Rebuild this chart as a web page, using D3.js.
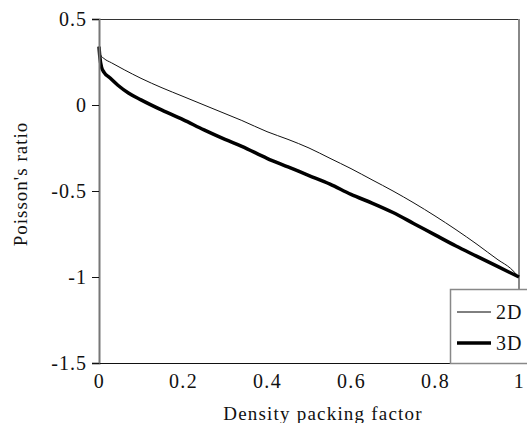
<!DOCTYPE html>
<html>
<head>
<meta charset="utf-8">
<script src="https://cdn.jsdelivr.net/npm/d3@7"></script>
<style>
  body { margin: 0; background: #fff; }
  text { font-family: "Liberation Serif", "Times New Roman", serif; fill: #111; }
</style>
</head>
<body>
<div id="chart"></div>
<script>
const FRAME_WIDTH = 527;
const FRAME_HEIGHT = 423;
const MARGINS = {left: 99, right: 8, top: 19, bottom: 60};

const VIS_WIDTH = FRAME_WIDTH - MARGINS.left - MARGINS.right;
const VIS_HEIGHT = FRAME_HEIGHT - MARGINS.top - MARGINS.bottom;

// data
const x2D = [0, 0.004, 0.012, 0.03, 0.06, 0.1, 0.15, 0.2, 0.25, 0.3, 0.34, 0.4, 0.45, 0.5, 0.55, 0.6, 0.65, 0.7, 0.75, 0.8, 0.85, 0.9, 0.95, 0.98, 1.0];
const y2D = [0.34, 0.29, 0.27, 0.245, 0.205, 0.155, 0.10, 0.05, 0.0, -0.05, -0.09, -0.155, -0.20, -0.25, -0.31, -0.37, -0.435, -0.50, -0.57, -0.645, -0.725, -0.81, -0.90, -0.95, -1.0];
const x3D = [0, 0.002, 0.006, 0.012, 0.025, 0.045, 0.07, 0.1, 0.15, 0.2, 0.25, 0.3, 0.34, 0.4, 0.45, 0.5, 0.55, 0.6, 0.65, 0.7, 0.75, 0.8, 0.85, 0.9, 0.95, 1.0];
const y3D = [0.34, 0.28, 0.22, 0.19, 0.16, 0.115, 0.07, 0.03, -0.03, -0.085, -0.145, -0.20, -0.24, -0.31, -0.36, -0.41, -0.46, -0.52, -0.57, -0.625, -0.69, -0.755, -0.82, -0.88, -0.94, -1.0];

const X_TICKS = [0, 0.2, 0.4, 0.6, 0.8, 1];
const Y_TICKS = [-1.5, -1, -0.5, 0, 0.5];
const SERIES_NAMES = ["2D", "3D"];

const FRAME = d3.select("#chart")
  .append("svg")
    .attr("width", FRAME_WIDTH)
    .attr("height", FRAME_HEIGHT);

const X_SCALE = d3.scaleLinear().domain([0, 1]).range([0, 420]);
const Y_SCALE = d3.scaleLinear().domain([-1.5, 0.5]).range([VIS_HEIGHT, 0]);

// plain hyphen instead of unicode minus, like the original
const fmt = (d) => String(d);

const g = FRAME.append("g")
  .attr("transform", "translate(" + MARGINS.left + "," + MARGINS.top + ")");

// plot border (top + right)
g.append("line")
  .attr("x1", 0).attr("x2", X_SCALE(1))
  .attr("y1", 0.5).attr("y2", 0.5)
  .attr("stroke", "#333").attr("stroke-width", 1);
g.append("line")
  .attr("x1", X_SCALE(1)).attr("x2", X_SCALE(1))
  .attr("y1", 0).attr("y2", VIS_HEIGHT)
  .attr("stroke", "#888").attr("stroke-width", 2);

// curves
const line = d3.line()
  .x((d) => X_SCALE(d[0]))
  .y((d) => Y_SCALE(d[1]))
  .curve(d3.curveMonotoneX);

g.append("path")
  .datum(x2D.map((x, i) => [x, y2D[i]]))
  .attr("d", line)
  .attr("fill", "none")
  .attr("stroke", "#111")
  .attr("stroke-width", 1);

g.append("path")
  .datum(x3D.map((x, i) => [x, y3D[i]]))
  .attr("d", line)
  .attr("fill", "none")
  .attr("stroke", "#000")
  .attr("stroke-width", 3.5)
  .attr("stroke-linejoin", "round");

// Y axis
const yAxis = g.append("g")
  .call(d3.axisLeft(Y_SCALE).tickValues(Y_TICKS).tickSize(7).tickPadding(5)
    .tickFormat(fmt));
yAxis.select(".domain").attr("stroke", "#777").attr("stroke-width", 2);
yAxis.selectAll(".tick line").attr("stroke", "#111");
yAxis.selectAll("text")
  .attr("font-size", "20px")
  .attr("letter-spacing", "1px")
  .attr("font-family", "Liberation Serif");

// X axis
const xAxis = g.append("g")
  .attr("transform", "translate(0," + VIS_HEIGHT + ")")
  .call(d3.axisBottom(X_SCALE).tickValues(X_TICKS).tickSize(0).tickPadding(11)
    .tickFormat(fmt));
xAxis.select(".domain").attr("stroke", "#111").attr("stroke-width", 1.2);
xAxis.selectAll("text")
  .attr("font-size", "20px")
  .attr("letter-spacing", "1.3px")
  .attr("font-family", "Liberation Serif");

// axis titles
FRAME.append("text")
  .attr("x", MARGINS.left + 224)
  .attr("y", 420)
  .attr("text-anchor", "middle")
  .attr("font-size", "19px")
  .attr("letter-spacing", "1.2px")
  .text("Density packing factor");

FRAME.append("text")
  .attr("transform", "translate(27," + 184 + ") rotate(-90)")
  .attr("text-anchor", "middle")
  .attr("font-size", "19px")
  .attr("letter-spacing", "1px")
  .text("Poisson's ratio");

// legend
const legend = FRAME.append("g").attr("transform", "translate(450,289)");
legend.append("rect")
  .attr("x", 0.5).attr("y", 0.5)
  .attr("width", 90).attr("height", 74)
  .attr("fill", "#fff")
  .attr("stroke", "#888")
  .attr("stroke-width", 1.5);

SERIES_NAMES.forEach((name, i) => {
  const yy = 23 + i * 31;
  legend.append("line")
    .attr("x1", 7).attr("x2", 41)
    .attr("y1", yy).attr("y2", yy)
    .attr("stroke", "#000")
    .attr("stroke-width", i === 0 ? 1 : 3.5);
  legend.append("text")
    .attr("x", 46).attr("y", yy + 7)
    .attr("font-size", "20px")
    .attr("letter-spacing", "1px")
    .text(name);
});
</script>
</body>
</html>
